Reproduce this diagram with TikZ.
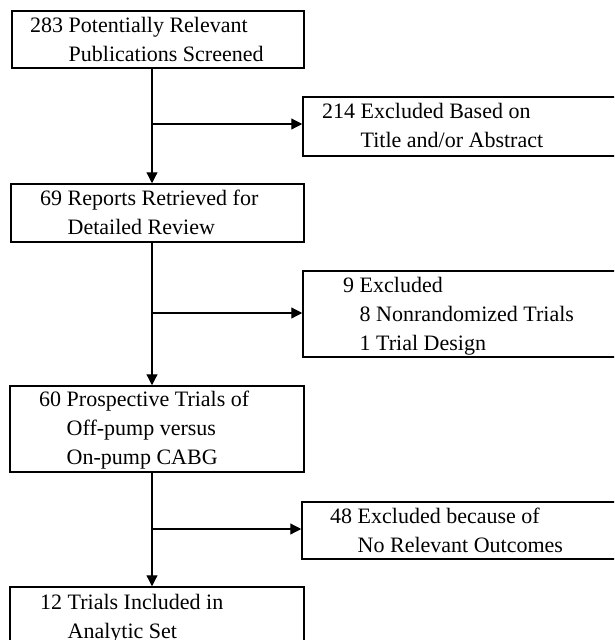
\documentclass[tikz,border=0pt]{standalone}
\usepackage{fontspec}
\setmainfont{Liberation Serif}
\usetikzlibrary{arrows.meta}
\begin{document}
\begin{tikzpicture}[x=1pt,y=-1pt,
  box/.style={draw, line width=1.5pt, inner sep=0pt, rectangle},
  lbl/.style={anchor=base west, inner sep=0pt, font=\fontsize{22}{29}\selectfont},
  arr/.style={line width=1.2pt, -{Triangle[length=11pt,width=11pt]}}]
\useasboundingbox (0,0) rectangle (614,640);
\clip (0,0) rectangle (614,640);
% boxes
\node[box, minimum width=292pt, minimum height=57pt] (b1) at (158,39.5) {};
\node[box, minimum width=337pt, minimum height=59pt] (b2) at (471.5,126.5) {};
\node[box, minimum width=293pt, minimum height=58pt] (b3) at (157.5,213) {};
\node[box, minimum width=337pt, minimum height=86pt] (b4) at (471.5,314) {};
\node[box, minimum width=294pt, minimum height=86pt] (b5) at (157,429) {};
\node[box, minimum width=338pt, minimum height=57pt] (b6) at (471,530.5) {};
\node[box, minimum width=294pt, minimum height=73pt] (b7) at (157,623.5) {};
% texts
\node[lbl] (t1) at (30,32) {\begin{tabular}[t]{@{}l@{\ }l@{}}283 & Potentially Relevant\\ & Publications Screened\end{tabular}};
\node[lbl] (t2) at (322,118) {\begin{tabular}[t]{@{}l@{\ }l@{}}214 & Excluded Based on\\ & Title and/or Abstract\end{tabular}};
\node[lbl] (t3) at (40,205) {\begin{tabular}[t]{@{}l@{\ }l@{}}69 & Reports Retrieved for\\ & Detailed Review\end{tabular}};
\node[lbl] (t4) at (343,292) {\begin{tabular}[t]{@{}l@{\ }l@{}}9 & Excluded\\ & 8 Nonrandomized Trials\\ & 1 Trial Design\end{tabular}};
\node[lbl] (t5) at (39,406) {\begin{tabular}[t]{@{}l@{\ }l@{}}60 & Prospective Trials of\\ & Off-pump versus\\ & On-pump CABG\end{tabular}};
\node[lbl] (t6) at (330,523) {\begin{tabular}[t]{@{}l@{\ }l@{}}48 & Excluded because of\\ & No Relevant Outcomes\end{tabular}};
\node[lbl] (t7) at (40,609) {\begin{tabular}[t]{@{}l@{\ }l@{}}12 & Trials Included in\\ & Analytic Set\end{tabular}};
% connectors
\coordinate (v) at (152,0);
\coordinate (j1) at (152,124);
\coordinate (j2) at (152,313);
\coordinate (j3) at (152,529);
\draw[arr] (b1.south -| v) -- (b3.north -| v);
\draw[arr] (b3.south -| v) -- (b5.north -| v);
\draw[arr] (b5.south -| v) -- (b7.north -| v);
\draw[arr] (j1) -- (j1 -| b2.west);
\draw[arr] (j2) -- (j2 -| b4.west);
\draw[arr] (j3) -- (j3 -| b6.west);
\end{tikzpicture}
\end{document}
